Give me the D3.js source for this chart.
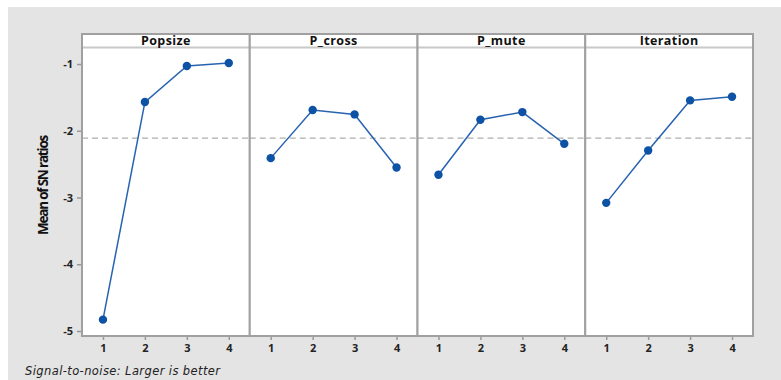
<!DOCTYPE html>
<html>
<head>
    <meta charset="utf-8">
    <script src="https://d3js.org/d3.v7.min.js"></script>
    <style>
        body { margin: 0; background: white; }
        text { font-family: "Open Sans", "DejaVu Sans", sans-serif; }
    </style>
</head>
<body>
<svg id="chart" width="781" height="380"></svg>
<script>
    // factor names and levels
    const factors = ["Popsize", "P_cross", "P_mute", "Iteration"];
    const levels = [1, 2, 3, 4];
    // mean SN ratios
    const popsize = [-4.83, -1.57, -1.03, -0.985];
    const pCross = [-2.41, -1.69, -1.755, -2.55];
    const pMute = [-2.66, -1.835, -1.72, -2.195];
    const iteration = [-3.08, -2.295, -1.545, -1.49];
    const seriesValues = [popsize, pCross, pMute, iteration];
    const grandMean = -2.11;
    const yTicks = [-5, -4, -3, -2, -1];

    const svg = d3.select("#chart");

    // grey background
    svg.append("rect")
        .attr("x", 8).attr("y", 7)
        .attr("width", 773).attr("height", 373)
        .attr("fill", "#e4e4e4");

    const plotLeft = 82, plotRight = 753, plotTop = 34, headH = 13, plotBottom = 336;
    const panelW = (plotRight - plotLeft) / factors.length;

    const y = d3.scaleLinear()
        .domain([-5.075, -0.745])
        .range([plotBottom, plotTop + headH]);

    const panelX = d3.scaleBand()
        .domain(factors)
        .range([plotLeft, plotRight]);

    factors.forEach((f, i) => {
        const x0 = panelX(f);
        const g = svg.append("g").attr("transform", `translate(${x0},0)`);

        const x = d3.scalePoint()
            .domain(levels)
            .range([0, panelW])
            .padding(0.5);

        g.append("rect")
            .attr("x", 0).attr("y", plotTop)
            .attr("width", panelW).attr("height", plotBottom - plotTop)
            .attr("fill", "white");

        // header strip
        g.append("line")
            .attr("x1", 0).attr("x2", panelW)
            .attr("y1", plotTop + headH + 0.5).attr("y2", plotTop + headH + 0.5)
            .attr("stroke", "#c8c8c8").attr("stroke-width", 2);
        g.append("text")
            .attr("x", panelW / 2).attr("y", plotTop + 11)
            .attr("text-anchor", "middle")
            .attr("font-size", 12.5).attr("font-weight", "bold")
            .attr("letter-spacing", 0.4)
            .attr("fill", "#111")
            .text(f);

        // reference line
        g.append("line")
            .attr("x1", 0).attr("x2", panelW)
            .attr("y1", y(grandMean)).attr("y2", y(grandMean))
            .attr("stroke", "#999").attr("stroke-dasharray", "6,4");

        // x axis
        const xAxis = g.append("g")
            .attr("transform", `translate(0,${plotBottom})`)
            .call(d3.axisBottom(x).tickSize(4).tickPadding(4));
        xAxis.select(".domain").remove();
        xAxis.selectAll("line").attr("stroke", "#999").attr("stroke-width", 1.5);
        xAxis.selectAll("text")
            .attr("font-size", 11).attr("font-weight", "bold")
            .attr("fill", "#222");

        const line = d3.line()
            .x((d, j) => x(levels[j]))
            .y(d => y(d));

        g.append("path")
            .datum(seriesValues[i])
            .attr("fill", "none")
            .attr("stroke", "#2863b0")
            .attr("stroke-width", 1.5)
            .attr("d", line);

        g.selectAll("circle")
            .data(seriesValues[i])
            .join("circle")
            .attr("cx", (d, j) => x(levels[j]))
            .attr("cy", d => y(d))
            .attr("r", 4.2)
            .attr("fill", "#0d52a5");

        g.append("rect")
            .attr("x", 0).attr("y", plotTop)
            .attr("width", panelW).attr("height", plotBottom - plotTop)
            .attr("fill", "none")
            .attr("stroke", "#a0a0a0").attr("stroke-width", 2);
    });

    // y axis
    const yAxis = svg.append("g")
        .attr("transform", `translate(${plotLeft - 1},0)`)
        .call(d3.axisLeft(y).tickValues(yTicks).tickFormat(d => "-" + Math.abs(d))
            .tickSize(4).tickPadding(4));
    yAxis.select(".domain").remove();
    yAxis.selectAll("line").attr("stroke", "#999").attr("stroke-width", 1.5);
    yAxis.selectAll("text")
        .attr("font-size", 11).attr("font-weight", "bold")
        .attr("fill", "#222");

    svg.append("text")
        .attr("transform", `translate(48,${(plotTop + headH + plotBottom) / 2 - 6}) rotate(-90)`)
        .attr("text-anchor", "middle")
        .attr("font-size", 13.5)
        .attr("font-weight", "bold")
        .attr("letter-spacing", -1.2)
        .attr("fill", "#111")
        .text("Mean of SN ratios");

    svg.append("text")
        .attr("x", 25).attr("y", 375)
        .attr("font-size", 11.5)
        .attr("font-style", "italic")
        .attr("letter-spacing", 0.4)
        .style("font-family", "\"DejaVu Sans\", sans-serif")
        .attr("fill", "#222")
        .text("Signal-to-noise: Larger is better");
</script>
</body>
</html>
